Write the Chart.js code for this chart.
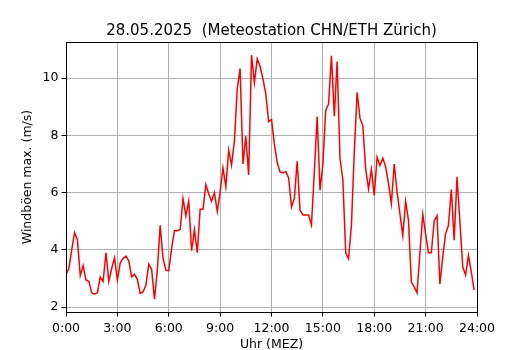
<!DOCTYPE html>
<html>
<head>
<meta charset="utf-8">
<script src="https://cdn.jsdelivr.net/npm/chart.js@4.4.1/dist/chart.umd.min.js"></script>
<style>
  html, body { margin: 0; padding: 0; background: #fff; }
  #wrap { width: 530px; height: 350px; }
</style>
</head>
<body>
<div id="wrap"><canvas id="windChart" width="530" height="350"></canvas></div>
<script>
// Wind gusts, one value every 10 minutes from 0:00 to 23:50
const gustValues = [
  3.15, 3.35, 4.0, 4.6, 4.35, 3.1, 3.45, 2.95, 2.9, 2.5, 2.45, 2.5,
  3.05, 2.9, 3.9, 2.9, 3.35, 3.72, 2.95, 3.55, 3.7, 3.78, 3.62, 3.05,
  3.15, 2.97, 2.48, 2.53, 2.77, 3.5, 3.32, 2.28, 3.29, 4.86, 3.7, 3.29,
  3.27, 4.05, 4.67, 4.67, 4.71, 5.79, 5.18, 5.7, 3.97, 4.71, 3.9, 5.42,
  5.42, 6.28, 5.96, 5.7, 6.0, 5.34, 6.02, 6.86, 6.2, 7.48, 6.96, 7.79,
  9.63, 10.33, 7.0, 7.97, 6.62, 10.8, 9.84, 10.67, 10.41, 9.97, 9.45, 8.48,
  8.55, 7.7, 7.04, 6.72, 6.69, 6.74, 6.51, 5.5, 5.79, 7.09, 5.38, 5.22,
  5.22, 5.22, 4.87, 6.7, 8.66, 6.08, 7.0, 8.88, 9.09, 10.78, 8.67, 10.58,
  7.2, 6.44, 3.9, 3.69, 4.85, 7.4, 9.5, 8.6, 8.34, 6.83, 6.13, 6.81,
  5.9, 7.24, 6.95, 7.2, 6.9, 6.31, 5.62, 7.0, 6.02, 5.26, 4.5, 5.69,
  5.02, 2.88, 2.71, 2.5, 3.9, 5.24, 4.55, 3.9, 3.9, 5.01, 5.19, 2.8,
  3.76, 4.57, 4.86, 6.11, 4.34, 6.55, 5.0, 3.41, 3.12, 3.81, 3.23, 2.59
];
const stepMinutes = 10;
const hourLabels = ['0:00', '3:00', '6:00', '9:00', '12:00', '15:00', '18:00', '21:00', '24:00'];
const yTicks = [2, 4, 6, 8, 10];

const titleText = '28.05.2025  (Meteostation CHN/ETH Zürich)';
const baseFont = { family: "'DejaVu Sans', sans-serif", size: 12.5 };

// matplotlib style box around the plot
const frameBox = {
  id: 'frameBox',
  afterDraw(chart) {
    const { ctx, chartArea: a } = chart;
    ctx.save();
    ctx.strokeStyle = '#000';
    ctx.lineWidth = 1;
    ctx.strokeRect(Math.round(a.left) + 0.5, Math.round(a.top) + 0.5,
      Math.round(a.right - a.left), Math.round(a.bottom - a.top));
    ctx.restore();
  }
};

const points = gustValues.map((v, i) => ({ x: i * stepMinutes / 60, y: v }));

new Chart(document.getElementById('windChart').getContext('2d'), {
  type: 'line',
  data: {
    datasets: [{
      data: points,
      borderColor: '#ff0000',
      borderWidth: 1.5,
      pointRadius: 0,
      tension: 0,
      fill: false
    }]
  },
  options: {
    responsive: false,
    animation: false,
    devicePixelRatio: 1,
    layout: { padding: { left: 13, right: 0, top: 0, bottom: 0 } },
    plugins: {
      legend: { display: false },
      tooltip: { enabled: false },
      title: {
        display: true,
        text: titleText,
        color: '#000',
        font: { family: baseFont.family, size: 15, weight: 'normal', lineHeight: 1.2 },
        padding: { top: 22, bottom: 2 }
      }
    },
    scales: {
      x: {
        type: 'linear',
        min: 0,
        max: 24,
        afterFit(scale) { scale.height = 38; },
        afterBuildTicks(scale) {
          scale.ticks = hourLabels.map((_, k) => ({ value: k * 3 }));
        },
        ticks: {
          color: '#000',
          font: baseFont,
          padding: 5,
          maxRotation: 0,
          autoSkip: false,
          callback: (v) => hourLabels[Math.round(v / 3)]
        },
        grid: { color: '#b0b0b0', lineWidth: 1, tickColor: '#000', tickLength: 4.5 },
        border: { color: '#000', width: 1 },
        title: {
          display: true,
          text: 'Uhr (MEZ)',
          color: '#000',
          font: { family: baseFont.family, size: 12.5, lineHeight: 0.8 },
          padding: { top: 0, bottom: 0 }
        }
      },
      y: {
        min: 1.83,
        max: 11.26,
        afterFit(scale) { scale.width = 53; },
        afterBuildTicks(scale) {
          scale.ticks = yTicks.map(v => ({ value: v }));
        },
        ticks: { color: '#000', font: baseFont, padding: 3 },
        grid: { color: '#b0b0b0', lineWidth: 1, tickColor: '#000', tickLength: 4.5 },
        border: { color: '#000', width: 1 },
        title: {
          display: true,
          text: 'Windböen max. (m/s)',
          color: '#000',
          font: { family: baseFont.family, size: 12.5, lineHeight: 1.2 },
          padding: { top: 7, bottom: 0 }
        }
      },
      // empty right axis only keeps the right margin, so the title centres over the plot
      yRight: {
        position: 'right',
        display: true,
        afterFit(scale) { scale.width = 53; },
        ticks: { display: false },
        grid: { display: false, drawTicks: false },
        border: { display: false }
      }
    }
  },
  plugins: [frameBox]
});
</script>
</body>
</html>
